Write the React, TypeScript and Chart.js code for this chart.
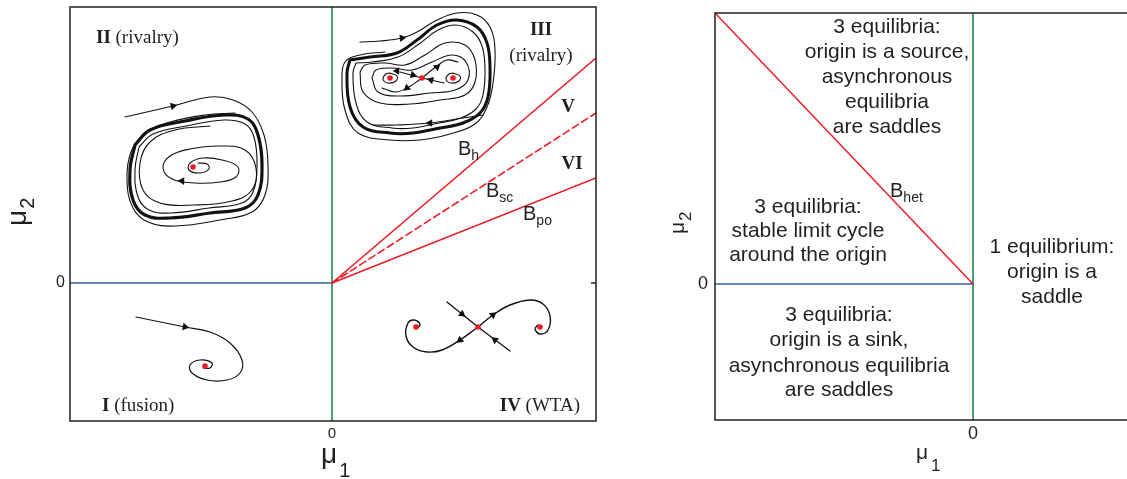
import { useEffect, useRef } from "react";
import { Chart, registerables } from "chart.js";

Chart.register(...registerables);

type Pt = [number, number];

const SANS = '"Liberation Sans", Arial, Helvetica, sans-serif';
const SERIF = '"Liberation Serif", "Times New Roman", serif';
const INK = "#231f20";
const RED = "#ec1c24";
const BLUE = "#3c5db3";
const GREEN = "#1f8a4c";

// Axis extents (unlabelled apart from the origin)
const leftX: Pt = [-262, 264];
const leftY: Pt = [-138, 276];
const rightX: Pt = [-258, 168];
const rightY: Pt = [-136, 271];

const tickValues = [0];
const tickLabels = ["0"];

// ---- Left panel: bifurcation curves ----
const hopfLeft: Pt[] = [[-262, 0], [0, 0]];
const pitchforkLeft: Pt[] = [[0, -138], [0, 276]];
const curveBh: Pt[] = [[0, 0], [264, 225]];
const curveBsc: Pt[] = [[0, 0], [264, 170]];
const curveBpo: Pt[] = [[0, 0], [264, 105]];

// ---- Right panel: bifurcation curves ----
const hopfRight: Pt[] = [[-258, 0], [0, 0]];
const pitchforkRight: Pt[] = [[0, -136], [0, 271]];
const curveBhet: Pt[] = [[-258, 271], [0, 0]];

// ---- Region I (fusion): stable focus ----
const fusionOrbit: Pt[] = [
  [-196, -34], [-147, -44], [-122, -49], [-102, -60], [-90, -77], [-92, -90],
  [-105, -97], [-125, -97], [-140, -90], [-142, -82], [-132, -77], [-120, -80],
  [-122, -85], [-129, -85],
];
const fusionFixed: Pt[] = [[-127, -83]];
const fusionArrows: Pt[] = [[-147, -44]];
const fusionArrowRot = [101];

// ---- Region II (rivalry): limit cycle around an unstable focus ----
const rivalryOuter: Pt[] = [
  [-207, 166], [-159, 177], [-122, 186], [-99, 183], [-80, 171], [-68, 148],
  [-64, 118], [-67, 88], [-80, 71], [-112, 63], [-157, 57], [-184, 61],
  [-199, 75], [-205, 103], [-201, 131], [-187, 150], [-162, 161], [-127, 168],
  [-97, 170],
];
const rivalryCycle: Pt[] = [
  [-197, 138], [-182, 153], [-147, 162], [-107, 168], [-84, 164], [-74, 148],
  [-70, 118], [-74, 88], [-87, 75], [-122, 70], [-162, 65], [-187, 68],
  [-199, 83], [-202, 113], [-197, 138],
];
const rivalryCycleInner: Pt[] = [
  [-193, 136], [-179, 149], [-146, 157], [-108, 163], [-87, 159], [-78, 146],
  [-75, 118], [-79, 91], [-90, 80], [-123, 75], [-161, 70], [-183, 73],
  [-194, 86], [-197, 113], [-193, 136],
];
const rivalrySpiral: Pt[] = [
  [-134, 120], [-125, 119], [-123, 114], [-132, 110], [-143, 113], [-142, 120],
  [-129, 125], [-110, 123], [-94, 116], [-96, 106], [-112, 101], [-137, 100],
  [-160, 104], [-169, 115], [-162, 127], [-142, 134], [-112, 137], [-87, 133],
  [-76, 115], [-80, 93], [-100, 82], [-137, 78], [-172, 80], [-189, 93],
  [-192, 120], [-182, 141], [-157, 153], [-122, 157],
];
const rivalryFixed: Pt[] = [[-139, 116]];
const rivalryArrows: Pt[] = [[-159, 177], [-150, 102]];
const rivalryArrowRot = [77, 272];

// ---- Region III (rivalry): cycle around two foci and a saddle ----
const twinOuter: Pt[] = [
  [28, 241], [48, 242], [70, 245], [85, 251], [105, 263], [125, 270], [145, 268],
  [158, 256], [163, 233], [161, 200], [155, 176], [143, 159], [118, 149],
  [88, 143], [58, 143], [26, 150], [13, 173], [10, 203], [13, 221], [28, 228],
  [53, 231],
];
const twinCycle: Pt[] = [
  [18, 223], [15, 210], [18, 176], [31, 156], [58, 150], [81, 150], [108, 155],
  [131, 160], [148, 170], [156, 186], [158, 216], [155, 240], [145, 256],
  [125, 263], [105, 258], [85, 243], [65, 230], [38, 226], [18, 223],
];
const twinCycleInner: Pt[] = [
  [24, 220], [21, 210], [24, 180], [35, 161], [60, 155], [81, 155], [107, 160],
  [129, 165], [144, 174], [151, 188], [153, 215], [150, 237], [141, 251],
  [124, 258], [106, 253], [87, 239], [66, 226], [40, 221], [24, 220],
];
const twinMid: Pt[] = [
  [28, 211], [31, 191], [48, 180], [78, 179], [108, 183], [133, 188], [143, 201],
  [143, 223], [133, 238], [113, 240], [93, 228], [73, 218], [53, 220], [33, 218],
  [28, 211],
];
const twinInner: Pt[] = [
  [40, 205], [46, 191], [68, 187], [98, 190], [123, 193], [136, 203], [134, 221],
  [120, 228], [100, 221], [80, 213], [60, 215], [44, 213], [40, 205],
];
const twinBottom: Pt[] = [[151, 168], [131, 165], [98, 160], [65, 158], [41, 158]];
const twinStable: Pt[] = [[68, 211], [90, 205], [112, 200]];
const twinUnstableA: Pt[] = [[90, 205], [105, 217], [115, 223], [126, 221]];
const twinUnstableB: Pt[] = [[90, 205], [75, 195], [63, 191], [50, 195]];
const twinLoopLeft: Pt[] = [[58, 210], [65, 207], [64, 202], [56, 200], [51, 204], [54, 209], [58, 210]];
const twinLoopRight: Pt[] = [[121, 210], [128, 207], [127, 202], [119, 200], [114, 204], [117, 209], [121, 210]];
const twinFixed: Pt[] = [[58, 205], [90, 205], [121, 205]];
const twinArrows: Pt[] = [[70, 245], [98, 160], [81, 208], [99, 203], [105, 216], [75, 195], [65, 212]];
const twinArrowRot = [85, 270, 105, 285, 50, 230, 270];

// ---- Region IV (WTA): saddle between two stable foci ----
const wtaStable: Pt[] = [[115, -19], [146, -44], [178, -68]];
const wtaRight: Pt[] = [
  [146, -44], [161, -32], [178, -22], [198, -17], [211, -21], [218, -33],
  [216, -47], [208, -51], [203, -46], [206, -42],
];
const wtaLeft: Pt[] = [
  [146, -44], [128, -57], [110, -67], [95, -69], [81, -64], [74, -53],
  [76, -40], [82, -37], [88, -41], [86, -45],
];
const wtaFixed: Pt[] = [[84, -44], [146, -44], [208, -44]];
const wtaArrows: Pt[] = [[130, -31], [163, -57], [161, -32], [128, -57]];
const wtaArrowRot = [128, 308, 52, 232];

const xy = (pts: Pt[]) => pts.map(([x, y]) => ({ x, y }));

function curve(pts: Pt[], color: string, width: number, tension = 0, dash: number[] = []) {
  return {
    data: xy(pts),
    showLine: true,
    borderColor: color,
    borderWidth: width,
    borderDash: dash,
    borderCapStyle: "round",
    borderJoinStyle: "round",
    pointRadius: 0,
    pointHoverRadius: 0,
    tension,
    fill: false,
  };
}

function arrowHeads(pts: Pt[], rot: number[]) {
  return {
    data: xy(pts),
    showLine: false,
    pointStyle: "triangle",
    pointRadius: 4.4,
    pointRotation: rot,
    pointBackgroundColor: "#111",
    pointBorderColor: "#111",
    pointBorderWidth: 0,
  };
}

function fixedPoints(pts: Pt[]) {
  return {
    data: xy(pts),
    showLine: false,
    pointStyle: "circle",
    pointRadius: 2.8,
    pointBackgroundColor: RED,
    pointBorderWidth: 0,
  };
}

function axes(xr: Pt, yr: Pt, yWidth: number, xHeight: number, yPad: number, xPad: number, fx: number, fy: number) {
  const onlyOrigin = (s: any) => {
    s.ticks = tickValues.map((v) => ({ value: v }));
  };
  const noPad = (s: any) => {
    s.paddingLeft = 0;
    s.paddingRight = 0;
    s.paddingTop = 0;
    s.paddingBottom = 0;
  };
  return {
    x: {
      type: "linear",
      min: xr[0],
      max: xr[1],
      grid: { display: false, drawTicks: false },
      border: { display: false },
      afterBuildTicks: onlyOrigin,
      ticks: {
        callback: (_v: any, i: number) => tickLabels[i],
        padding: xPad,
        color: INK,
        font: { family: SANS, size: fx },
        maxRotation: 0,
        autoSkip: false,
      },
      afterFit: (s: any) => {
        s.height = xHeight;
        noPad(s);
      },
    },
    y: {
      type: "linear",
      min: yr[0],
      max: yr[1],
      grid: { display: false, drawTicks: false },
      border: { display: false },
      afterBuildTicks: onlyOrigin,
      ticks: {
        callback: (_v: any, i: number) => tickLabels[i],
        padding: yPad,
        color: INK,
        font: { family: SANS, size: fy },
        autoSkip: false,
      },
      afterFit: (s: any) => {
        s.width = yWidth;
        noPad(s);
      },
    },
  };
}

function subscripted(ctx: CanvasRenderingContext2D, x: number, y: number, main: string, sub: string, size: number, subSize: number, drop: number, gap = 1) {
  ctx.font = `${size}px ${SANS}`;
  ctx.textAlign = "left";
  ctx.textBaseline = "alphabetic";
  ctx.fillText(main, x, y);
  const w = ctx.measureText(main).width;
  ctx.font = `${subSize}px ${SANS}`;
  ctx.fillText(sub, x + w + gap, y + drop);
}

function regionLabel(ctx: CanvasRenderingContext2D, bold: string, rest: string, x: number, y: number, align: "left" | "right" | "center") {
  ctx.textAlign = "left";
  ctx.textBaseline = "alphabetic";
  ctx.font = `bold 19px ${SERIF}`;
  const w1 = ctx.measureText(bold).width;
  ctx.font = `19px ${SERIF}`;
  const w2 = ctx.measureText(rest).width;
  const x0 = align === "left" ? x : align === "right" ? x - w1 - w2 : x - (w1 + w2) / 2;
  ctx.font = `bold 19px ${SERIF}`;
  ctx.fillText(bold, x0, y);
  ctx.font = `19px ${SERIF}`;
  ctx.fillText(rest, x0 + w1, y);
}

function verticalTitle(ctx: CanvasRenderingContext2D, cx: number, cy: number, size: number, subSize: number, drop: number) {
  ctx.save();
  ctx.translate(cx, cy);
  ctx.rotate(-Math.PI / 2);
  subscripted(ctx, 0, 0, "\u03bc", "2", size, subSize, drop);
  ctx.restore();
}

const leftDecor = {
  id: "leftDecor",
  afterDraw(chart: any) {
    const { ctx, chartArea: a, scales } = chart;
    const px = (v: number) => scales.x.getPixelForValue(v);
    const py = (v: number) => scales.y.getPixelForValue(v);
    ctx.save();
    ctx.strokeStyle = INK;
    ctx.lineWidth = 1.5;
    ctx.strokeRect(a.left, a.top, a.right - a.left, a.bottom - a.top);
    ctx.beginPath();
    ctx.moveTo(a.right, py(0));
    ctx.lineTo(a.right - 5, py(0));
    ctx.stroke();

    ctx.fillStyle = INK;
    regionLabel(ctx, "II", " (rivalry)", px(-236), py(240), "left");
    regionLabel(ctx, "III", "", px(209), py(248), "center");
    regionLabel(ctx, "", "(rivalry)", px(209), py(222), "center");
    regionLabel(ctx, "V", "", px(236), py(171), "center");
    regionLabel(ctx, "VI", "", px(240), py(114), "center");
    regionLabel(ctx, "I", " (fusion)", px(-230), py(-128), "left");
    regionLabel(ctx, "IV", " (WTA)", px(248), py(-128), "right");

    subscripted(ctx, px(126), py(128), "B", "h", 20, 14, 5, 0);
    subscripted(ctx, px(154), py(86), "B", "sc", 20, 14, 5, 0);
    subscripted(ctx, px(191), py(63), "B", "po", 20, 14, 5, 0);

    // axis titles
    subscripted(ctx, 321, 463, "\u03bc", "1", 28, 20, 14, 2);
    verticalTitle(ctx, 26, 226, 28, 20, 8);
    ctx.restore();
  },
};

const rightDecor = {
  id: "rightDecor",
  afterDraw(chart: any) {
    const { ctx, chartArea: a, scales } = chart;
    const px = (v: number) => scales.x.getPixelForValue(v);
    const py = (v: number) => scales.y.getPixelForValue(v);
    ctx.save();
    ctx.strokeStyle = INK;
    ctx.lineWidth = 1.5;
    ctx.strokeRect(a.left, a.top, a.right - a.left, a.bottom - a.top);

    ctx.fillStyle = INK;
    ctx.font = `21px ${SANS}`;
    ctx.textAlign = "center";
    ctx.textBaseline = "middle";
    const block = (cx: number, lines: string[], ys: number[]) =>
      lines.forEach((t, i) => ctx.fillText(t, px(cx), py(ys[i])));
    block(-86, ["3 equilibria:", "origin is a source,", "asynchronous", "equilibria", "are saddles"], [257, 232, 207, 182, 157]);
    block(-165, ["3 equilibria:", "stable limit cycle", "around the origin"], [77, 53, 29]);
    block(79, ["1 equilibrium:", "origin is a", "saddle"], [37, 12, -13]);
    block(-134, ["3 equilibria:", "origin is a sink,", "asynchronous equilibria", "are saddles"], [-31, -56, -82, -106]);

    subscripted(ctx, px(-83), py(87), "B", "het", 20, 14, 5, 0);

    subscripted(ctx, 276, 459, "\u03bc", "1", 21, 17, 12, 3);
    verticalTitle(ctx, 44, 234, 21, 17, 7);
    ctx.restore();
  },
};

function leftConfig(): any {
  return {
    type: "scatter",
    data: {
      datasets: [
        arrowHeads(fusionArrows, fusionArrowRot),
        arrowHeads(rivalryArrows, rivalryArrowRot),
        arrowHeads(twinArrows, twinArrowRot),
        arrowHeads(wtaArrows, wtaArrowRot),
        fixedPoints(fusionFixed),
        fixedPoints(rivalryFixed),
        fixedPoints(twinFixed),
        fixedPoints(wtaFixed),
        curve(fusionOrbit, "#111", 1.2, 0.4),
        curve(rivalryOuter, "#111", 1.1, 0.4),
        curve(rivalryCycle, "#111", 3.2, 0.4),
        curve(rivalryCycleInner, "#111", 1.1, 0.4),
        curve(rivalrySpiral, "#111", 1.1, 0.4),
        curve(twinOuter, "#111", 1.1, 0.4),
        curve(twinCycle, "#111", 3.0, 0.4),
        curve(twinCycleInner, "#111", 1.1, 0.4),
        curve(twinMid, "#111", 1.1, 0.4),
        curve(twinInner, "#111", 1.1, 0.4),
        curve(twinBottom, "#111", 1.1, 0.4),
        curve(twinStable, "#111", 1.1, 0),
        curve(twinUnstableA, "#111", 1.1, 0.4),
        curve(twinUnstableB, "#111", 1.1, 0.4),
        curve(twinLoopLeft, "#111", 1.1, 0.4),
        curve(twinLoopRight, "#111", 1.1, 0.4),
        curve(wtaStable, "#111", 1.3, 0),
        curve(wtaRight, "#111", 1.4, 0.4),
        curve(wtaLeft, "#111", 1.4, 0.4),
        curve(curveBh, RED, 1.6),
        curve(curveBsc, RED, 1.6, 0, [7, 4]),
        curve(curveBpo, RED, 1.6),
        curve(hopfLeft, BLUE, 1.6),
        curve(pitchforkLeft, GREEN, 1.6),
      ],
    },
    options: {
      responsive: false,
      animation: false,
      events: [],
      layout: { padding: { left: 0, top: 7, right: 24, bottom: 0 } },
      plugins: { legend: { display: false }, tooltip: { enabled: false } },
      scales: axes(leftX, leftY, 70, 58, 5, 4, 15, 16),
    },
    plugins: [leftDecor],
  };
}

function rightConfig(): any {
  return {
    type: "scatter",
    data: {
      datasets: [
        curve(curveBhet, RED, 1.5),
        curve(hopfRight, BLUE, 1.6),
        curve(pitchforkRight, GREEN, 1.6),
      ],
    },
    options: {
      responsive: false,
      animation: false,
      events: [],
      layout: { padding: { left: 0, top: 13, right: 9, bottom: 0 } },
      plugins: { legend: { display: false }, tooltip: { enabled: false } },
      scales: axes(rightX, rightY, 75, 59, 7, 3, 18, 18),
    },
    plugins: [rightDecor],
  };
}

export default function App() {
  const leftRef = useRef<HTMLCanvasElement>(null);
  const rightRef = useRef<HTMLCanvasElement>(null);

  useEffect(() => {
    const left = new Chart(leftRef.current!, leftConfig());
    const right = new Chart(rightRef.current!, rightConfig());
    return () => {
      left.destroy();
      right.destroy();
    };
  }, []);

  return (
    <div style={{ position: "fixed", inset: 0, overflow: "hidden", background: "#fff" }}>
      <canvas
        ref={leftRef}
        width={620}
        height={479}
        style={{ position: "absolute", left: 0, top: 0, width: 620, height: 479 }}
      />
      <canvas
        ref={rightRef}
        width={510}
        height={479}
        style={{ position: "absolute", left: 640, top: 0, width: 510, height: 479 }}
      />
    </div>
  );
}
